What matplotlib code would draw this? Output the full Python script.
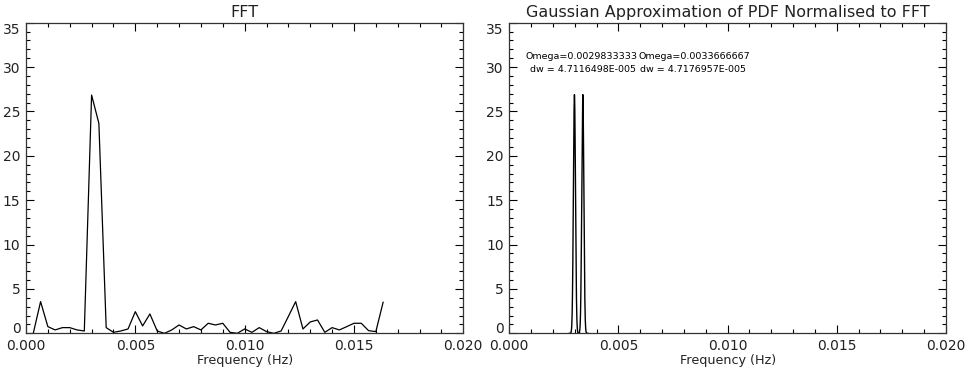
import numpy as np
import matplotlib
matplotlib.use("Agg")
import matplotlib.pyplot as plt
from matplotlib.ticker import MultipleLocator, FormatStrFormatter

# ---- data ----
freq = [0.000333, 0.000667, 0.001000, 0.001333, 0.001667, 0.002000, 0.002333,
        0.002667, 0.003000, 0.003333, 0.003667, 0.004000, 0.004333, 0.004667,
        0.005000, 0.005333, 0.005667, 0.006000, 0.006333, 0.006667, 0.007000,
        0.007333, 0.007667, 0.008000, 0.008333, 0.008667, 0.009000, 0.009333,
        0.009667, 0.010000, 0.010333, 0.010667, 0.011000, 0.011333, 0.011667,
        0.012000, 0.012333, 0.012667, 0.013000, 0.013333, 0.013667, 0.014000,
        0.014333, 0.014667, 0.015000, 0.015333, 0.015667, 0.016000, 0.016333]
power = [0.0, 3.57, 0.75, 0.38, 0.64, 0.64, 0.38,
         0.26, 26.85, 23.66, 0.64, 0.11, 0.26, 0.49,
         2.44, 0.83, 2.18, 0.26, 0.0, 0.38, 0.94,
         0.49, 0.75, 0.38, 1.13, 0.94, 1.13, 0.11,
         0.0, 0.49, 0.11, 0.64, 0.19, 0.0, 0.26,
         1.90, 3.57, 0.49, 1.28, 1.50, 0.11, 0.64,
         0.38, 0.75, 1.13, 1.13, 0.30, 0.19, 3.50]

omega = [0.0029833333, 0.0033666667]
dw = [4.7116498e-05, 4.7176957e-05]
gauss_amp = [26.9, 26.9]

omega_labels = ["Omega=0.0029833333", "Omega=0.0033666667"]
dw_labels = ["dw = 4.7116498E-005", "dw = 4.7176957E-005"]

titles = ["FFT", "Gaussian Approximation of PDF Normalised to FFT"]
xlabel = "Frequency (Hz)"

plt.rcParams['font.family'] = ['DejaVu Sans']

fig = plt.figure(figsize=(9.67, 3.70), dpi=100)
W, H = 967, 370
ax1 = fig.add_axes([26 / W, 1 - 333.3 / H, (463.3 - 26) / W, (333.3 - 22.7) / H])
ax2 = fig.add_axes([509.3 / W, 1 - 333.3 / H, (946 - 509.3) / W, (333.3 - 22.7) / H])

for ax, t in zip((ax1, ax2), titles):
    ax.set_xlim(0, 0.02)
    ax.set_ylim(0, 35)
    ax.xaxis.set_major_locator(MultipleLocator(0.005))
    ax.xaxis.set_minor_locator(MultipleLocator(0.001))
    ax.yaxis.set_major_locator(MultipleLocator(5))
    ax.yaxis.set_minor_locator(MultipleLocator(1))
    ax.xaxis.set_major_formatter(FormatStrFormatter('%.3f'))
    ax.yaxis.set_major_formatter(FormatStrFormatter('%d'))
    ax.tick_params(which='both', direction='in', top=True, right=True,
                   labelsize=10, width=0.8, color='black', labelcolor='#222222')
    ax.tick_params(which='major', length=6, pad=4)
    ax.tick_params(which='minor', length=3)
    for s in ax.spines.values():
        s.set_linewidth(0.9)
        s.set_color('#333333')
    ax.set_title(t, fontsize=11.5, pad=4, color='#222222')
    ax.set_xlabel(xlabel, fontsize=9.2, labelpad=0.5, color='#222222')

ax1.plot(freq, power, color='black', lw=0.9)

xg = np.linspace(0.0, 0.02, 8001)
for om, s, a in zip(omega, dw, gauss_amp):
    m = np.abs(xg - om) < 5 * s
    ax2.plot(xg[m], a * np.exp(-0.5 * ((xg[m] - om) / s) ** 2), color='black', lw=1.0)

ax2.text(0.00072, 31.2, omega_labels[0], fontsize=6.8, va='center', ha='left')
ax2.text(0.00095, 29.7, dw_labels[0], fontsize=6.8, va='center', ha='left')
ax2.text(0.00590, 31.2, omega_labels[1], fontsize=6.8, va='center', ha='left')
ax2.text(0.00600, 29.7, dw_labels[1], fontsize=6.8, va='center', ha='left')

fig.canvas.draw()
for ax in (ax1, ax2):
    for lab in ax.get_yticklabels():
        if lab.get_text() == '0':
            lab.set_va('baseline')
        elif lab.get_text() == '35':
            lab.set_va('top')

fig.savefig("out.png", dpi=100)
